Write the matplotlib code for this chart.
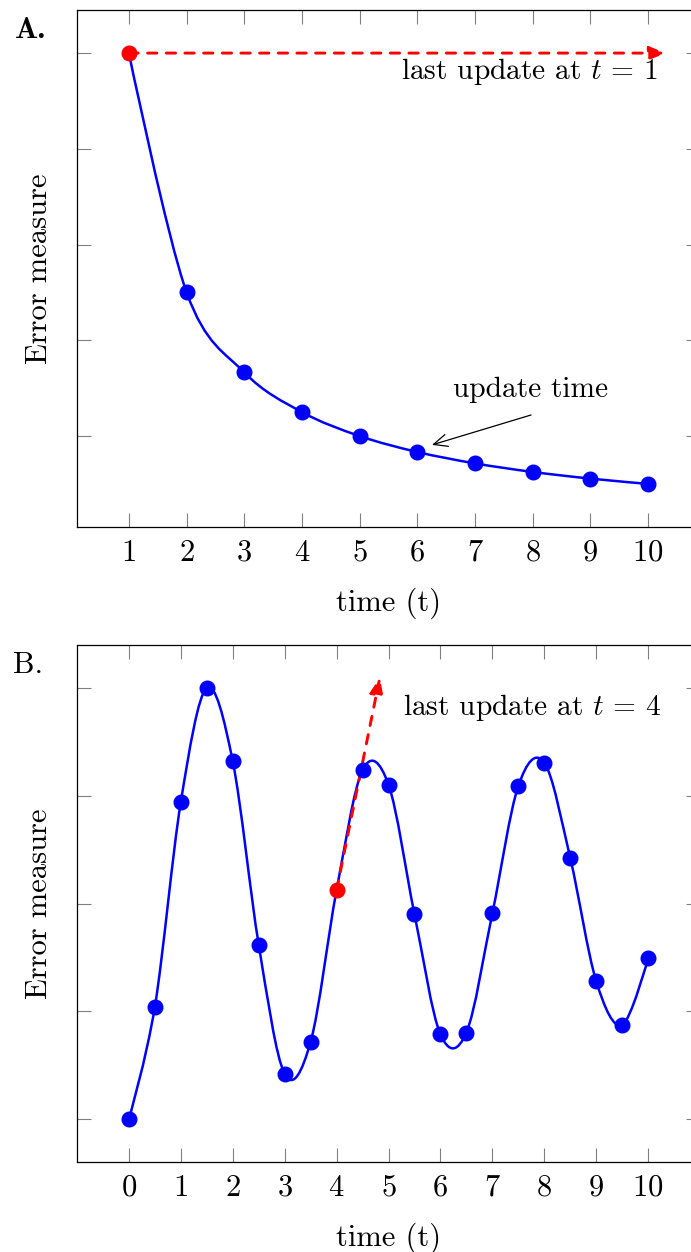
import matplotlib
matplotlib.use('Agg')
import matplotlib.pyplot as plt
from matplotlib.path import Path
from matplotlib.patches import PathPatch
import numpy as np

plt.rcParams['font.family'] = 'cmr10'
plt.rcParams['mathtext.fontset'] = 'cm'
plt.rcParams['axes.formatter.use_mathtext'] = True
plt.rcParams['font.size'] = 22

# panel A data: error decays after each update
t_a = [1, 2, 3, 4, 5, 6, 7, 8, 9, 10]
err_a = [1.0, 0.5, 0.333, 0.25, 0.2, 0.1667, 0.1429, 0.125, 0.1111, 0.1]
yticks_a = [0.2, 0.4, 0.6, 0.8, 1.0]

# panel B data: oscillating error
t_b = [0, 0.5, 1, 1.5, 2, 2.5, 3, 3.5, 4, 4.5, 5, 5.5, 6, 6.5, 7, 7.5, 8, 8.5, 9, 9.5, 10]
err_b = [0.0, 0.521, 1.472, 2.0, 1.66, 0.809, 0.209, 0.358, 1.062, 1.619, 1.552,
         0.951, 0.393, 0.401, 0.954, 1.545, 1.654, 1.212, 0.640, 0.436, 0.745]
yticks_b = [0, 0.5, 1.0, 1.5, 2.0]

K = 1 / 6.0  # smoothing of the curve through the points
NOTE_FS = 21.2


def smooth_path(xs, ys, k=K):
    pts = np.column_stack([xs, ys]).astype(float)
    n = len(pts)
    verts = [pts[0]]
    codes = [Path.MOVETO]
    for i in range(n - 1):
        p0, p1 = pts[i], pts[i + 1]
        c1 = p0 + k * (pts[i + 1] - pts[i - 1]) if i > 0 else p0
        c2 = p1 - k * (pts[i + 2] - pts[i]) if i + 2 < n else p1
        verts += [c1, c2, p1]
        codes += [Path.CURVE4] * 3
    return Path(verts, codes)


def style_axes(ax):
    for s in ax.spines.values():
        s.set_linewidth(0.9)
    ax.tick_params(direction='in', length=10, width=0.8, color='#808080',
                   top=True, right=True, labelleft=False, pad=9)


red_arrow = dict(arrowstyle='-|>,head_length=0.45,head_width=0.18', color='red',
                 lw=2.1, ls=(0, (3.2, 3.2)), shrinkA=0, shrinkB=0)

W, H = 691, 1252
fig = plt.figure(figsize=(W / 100, H / 100), dpi=100)
ax1 = fig.add_axes([77 / W, 1 - 527 / H, 623 / W, 517 / H])
ax2 = fig.add_axes([77 / W, 1 - 1162 / H, 623 / W, 517 / H])

# ---- A ----
ax1.add_patch(PathPatch(smooth_path(t_a, err_a), fill=False, ec='blue', lw=1.8, zorder=2))
ax1.annotate('', xy=(10.31, err_a[0]), xytext=(t_a[0], err_a[0]),
             arrowprops=red_arrow, zorder=3)
ax1.plot(t_a[1:], err_a[1:], 'o', color='blue', ms=10.5, zorder=4)
ax1.plot(t_a[:1], err_a[:1], 'o', color='red', ms=10.5, zorder=5)
ax1.text(10.16, 0.961, r'last update at $t\,=\,1$', ha='right', va='center', fontsize=NOTE_FS)
ax1.text(7.97, 0.296, 'update time', ha='center', va='center', fontsize=NOTE_FS)
ax1.annotate('', xy=(6.254, 0.1815), xytext=(7.971, 0.244),
             arrowprops=dict(arrowstyle='->,head_length=0.45,head_width=0.2', color='black',
                             lw=0.9, shrinkA=0, shrinkB=0))
ax1.set_xlim(0.1, 10.9)
ax1.set_ylim(0.01, 1.09)
ax1.set_xticks(t_a)
ax1.set_yticks(yticks_a)
ax1.set_xlabel('time (t)', labelpad=14.5)
ax1.set_ylabel('Error measure', labelpad=17)
style_axes(ax1)
fig.text(15 / W, 1 - 38 / H, 'A.', fontfamily='cmb10', fontsize=22)

# ---- B ----
ax2.add_patch(PathPatch(smooth_path(t_b, err_b), fill=False, ec='blue', lw=1.8, zorder=2))
ax2.annotate('', xy=(4.834, 2.05), xytext=(t_b[8], err_b[8]),
             arrowprops=red_arrow, zorder=3)
idx = [i for i in range(len(t_b)) if i != 8]
ax2.plot([t_b[i] for i in idx], [err_b[i] for i in idx], 'o', color='blue', ms=10.5, zorder=4)
ax2.plot([t_b[8]], [err_b[8]], 'o', color='red', ms=10.5, zorder=5)
ax2.text(5.28, 1.912, r'last update at $t\,=\,4$', ha='left', va='center', fontsize=NOTE_FS)
ax2.set_xlim(-1, 11)
ax2.set_ylim(-0.2, 2.2)
ax2.set_xticks(range(0, 11))
ax2.set_yticks(yticks_b)
ax2.set_xlabel('time (t)', labelpad=14.5)
ax2.set_ylabel('Error measure', labelpad=17)
style_axes(ax2)
fig.text(13 / W, 1 - 673 / H, 'B.', fontfamily='cmr10', fontsize=22)

fig.savefig('out.png', dpi=100)
